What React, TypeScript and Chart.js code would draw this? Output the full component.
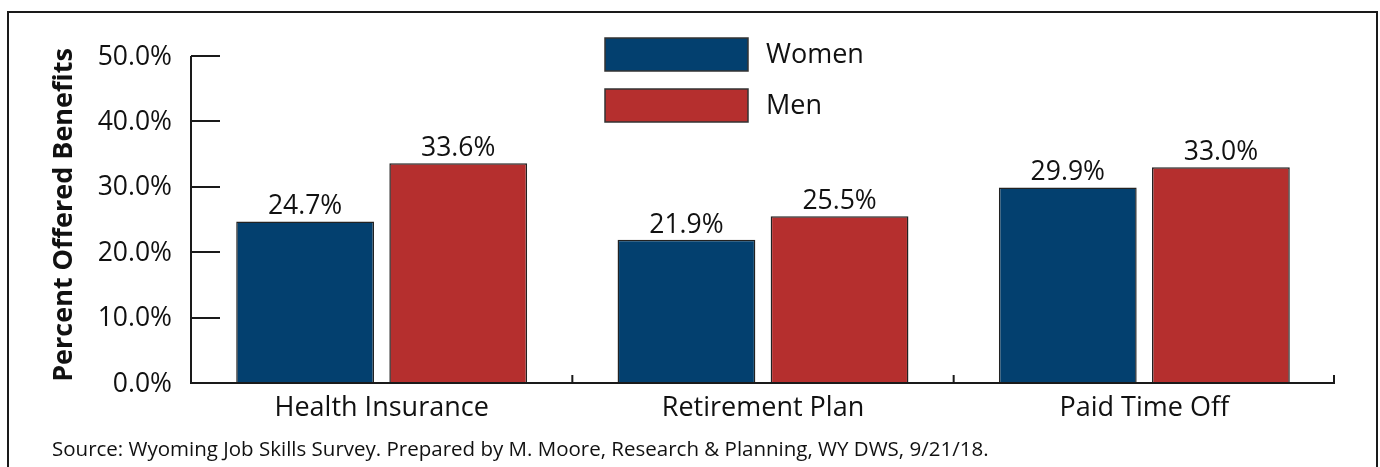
import React, { useEffect, useRef } from "react";
import { Chart, registerables } from "chart.js";

Chart.register(...registerables);

const categories = ["Health Insurance", "Retirement Plan", "Paid Time Off"];
const womenValues = [24.7, 21.9, 29.9];
const menValues = [33.6, 25.5, 33.0];
const seriesLabels = ["Women", "Men"];
const yTickValues = [0, 10, 20, 30, 40, 50];
const yTitle = "Percent Offered Benefits";
const sourceText =
  "Source: Wyoming Job Skills Survey. Prepared by M. Moore, Research & Planning, WY DWS, 9/21/18.";

const NAVY = "#03406F";
const RED = "#B52F2E";
const FONT = "'Open Sans', 'Noto Sans', sans-serif";

const decorPlugin = {
  id: "decor",
  beforeDraw(chart: any) {
    const ctx = chart.ctx;
    ctx.save();
    ctx.fillStyle = "#ffffff";
    ctx.fillRect(0, 0, chart.width, chart.height);
    // outer frame (bottom edge lies outside the picture)
    ctx.strokeStyle = "#1a1a1a";
    ctx.lineWidth = 2;
    ctx.beginPath();
    ctx.moveTo(8, chart.height + 5);
    ctx.lineTo(8, 12);
    ctx.lineTo(1377, 12);
    ctx.lineTo(1377, chart.height + 5);
    ctx.stroke();
    ctx.restore();
  },
  afterDatasetsDraw(chart: any) {
    const ctx = chart.ctx;
    const { left, right, bottom } = chart.chartArea;
    const y = chart.scales.y;
    const x = chart.scales.x;
    ctx.save();
    ctx.strokeStyle = "#1a1a1a";
    ctx.lineWidth = 2;
    // axes lines
    ctx.beginPath();
    ctx.moveTo(left, y.getPixelForValue(50));
    ctx.lineTo(left, bottom);
    ctx.lineTo(right, bottom);
    ctx.stroke();
    // y ticks pointing inward
    ctx.beginPath();
    yTickValues.forEach((v) => {
      const py = Math.round(y.getPixelForValue(v));
      ctx.moveTo(left, py);
      ctx.lineTo(left + 29, py);
    });
    ctx.stroke();
    // x boundary ticks pointing up
    ctx.beginPath();
    for (let i = 1; i <= categories.length; i++) {
      const px =
        i < categories.length
          ? (x.getPixelForValue(i - 1) + x.getPixelForValue(i)) / 2
          : right - 1;
      ctx.moveTo(px, bottom);
      ctx.lineTo(px, bottom - 8);
    }
    ctx.stroke();

    // y tick labels
    ctx.fillStyle = "#111";
    ctx.font = `26.5px ${FONT}`;
    ctx.textAlign = "right";
    ctx.textBaseline = "middle";
    yTickValues.forEach((v) => {
      ctx.fillText(v.toFixed(1) + "%", 172, y.getPixelForValue(v) + 1);
    });

    // x category labels
    ctx.font = `27px ${FONT}`;
    ctx.textAlign = "center";
    ctx.textBaseline = "alphabetic";
    categories.forEach((c, i) => {
      ctx.fillText(c, x.getPixelForValue(i), 416);
    });

    // value labels
    ctx.font = `26.5px ${FONT}`;
    chart.data.datasets.forEach((ds: any, di: number) => {
      const meta = chart.getDatasetMeta(di);
      meta.data.forEach((bar: any, i: number) => {
        ctx.fillText(ds.data[i].toFixed(1) + "%", bar.x, bar.y - 7);
      });
    });

    // y title
    ctx.save();
    ctx.translate(72, 215);
    ctx.rotate(-Math.PI / 2);
    ctx.font = `bold 27px ${FONT}`;
    ctx.textAlign = "center";
    ctx.textBaseline = "alphabetic";
    ctx.fillText(yTitle, 0, 0);
    ctx.restore();

    // legend
    const legendRows = [38, 89];
    chart.data.datasets.forEach((ds: any, di: number) => {
      const ty = legendRows[di];
      ctx.fillStyle = ds.backgroundColor;
      ctx.fillRect(605, ty, 143, 33);
      ctx.lineWidth = 1.5;
      ctx.strokeStyle = "#333";
      ctx.strokeRect(605, ty, 143, 33);
      ctx.fillStyle = "#111";
      ctx.font = `27px ${FONT}`;
      ctx.textAlign = "left";
      ctx.textBaseline = "middle";
      ctx.fillText(ds.label, 766, ty + 17);
    });

    // source note
    ctx.font = `20.5px ${FONT}`;
    ctx.textAlign = "left";
    ctx.textBaseline = "alphabetic";
    ctx.fillText(sourceText, 52, 456);
    ctx.restore();
  },
};

export default function App() {
  const canvasRef = useRef<HTMLCanvasElement | null>(null);

  useEffect(() => {
    if (!canvasRef.current) return;
    const chart = new Chart(canvasRef.current, {
      type: "bar",
      data: {
        labels: categories,
        datasets: [
          {
            label: seriesLabels[0],
            data: womenValues,
            backgroundColor: NAVY,
            borderColor: "#222",
            borderWidth: 1.5,
          },
          {
            label: seriesLabels[1],
            data: menValues,
            backgroundColor: RED,
            borderColor: "#222",
            borderWidth: 1.5,
          },
        ],
      },
      options: {
        animation: false,
        responsive: true,
        maintainAspectRatio: false,
        layout: { padding: { left: 191, right: 45, top: 56, bottom: 84 } },
        datasets: {
          bar: { categoryPercentage: 0.803, barPercentage: 0.9 },
        },
        plugins: {
          legend: { display: false },
          tooltip: { enabled: false },
          title: { display: false },
        },
        scales: {
          x: { display: false, offset: true },
          y: { display: false, min: 0, max: 50 },
        },
      },
      plugins: [decorPlugin],
    });
    return () => chart.destroy();
  }, []);

  return (
    <div style={{ position: "absolute", left: 0, top: 0, width: 1380, height: 467 }}>
      <canvas ref={canvasRef} />
    </div>
  );
}
